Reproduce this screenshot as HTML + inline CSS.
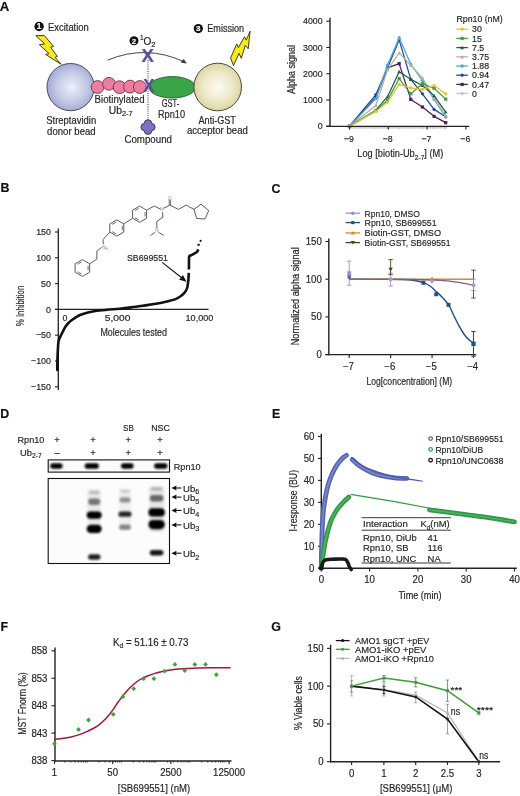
<!DOCTYPE html>
<html><head><meta charset="utf-8"><title>Figure</title>
<style>html,body{margin:0;padding:0;background:#fff;}svg{display:block;will-change:transform;}text{stroke-width:0.18px;}</style></head>
<body>
<svg width="520" height="796" viewBox="0 0 520 796" font-family='"Liberation Sans", sans-serif'>
<rect width="520" height="796" fill="#fff"/>
<text x="-0.30" y="11.40" font-size="13.2" fill="#111" font-weight="bold" stroke="#111" stroke-width="0.1">A</text>
<text x="0.40" y="192.20" font-size="12.4" fill="#111" font-weight="bold" stroke="#111" stroke-width="0.1">B</text>
<text x="271.50" y="192.60" font-size="12.4" fill="#111" font-weight="bold" stroke="#111" stroke-width="0.1">C</text>
<text x="0.30" y="417.90" font-size="12.4" fill="#111" font-weight="bold" stroke="#111" stroke-width="0.1">D</text>
<text x="272.00" y="418.00" font-size="12.4" fill="#111" font-weight="bold" stroke="#111" stroke-width="0.1">E</text>
<text x="0.40" y="631.40" font-size="12.4" fill="#111" font-weight="bold" stroke="#111" stroke-width="0.1">F</text>
<text x="271.20" y="631.40" font-size="12.4" fill="#111" font-weight="bold" stroke="#111" stroke-width="0.1">G</text>
<text x="357.3" y="157.3" font-size="10.6" fill="#262626" textLength="86" lengthAdjust="spacingAndGlyphs" stroke="#262626" stroke-width="0.1">Log [biotin-Ub<tspan font-size="7.6" dy="2.2">2-7</tspan><tspan dy="-2.2">] (M)</tspan></text>
<text x="294.70" y="69.40" font-size="10.6" fill="#262626" text-anchor="middle" textLength="49" lengthAdjust="spacingAndGlyphs" transform="rotate(-90 294.70 69.40)" stroke="#262626" stroke-width="0.1">Alpha signal</text>
<polyline points="349.50,127.78 375.88,127.78 387.52,127.78 399.16,127.78 410.80,127.78 422.44,127.78 434.08,127.78 445.72,127.78" stroke="#cbc3d6" stroke-width="1.25" fill="none" stroke-linejoin="round"/>
<circle cx="349.50" cy="127.78" r="1.20" fill="#cbc3d6" stroke="none" stroke-width="1"/>
<circle cx="375.88" cy="127.78" r="1.20" fill="#cbc3d6" stroke="none" stroke-width="1"/>
<circle cx="387.52" cy="127.78" r="1.20" fill="#cbc3d6" stroke="none" stroke-width="1"/>
<circle cx="399.16" cy="127.78" r="1.20" fill="#cbc3d6" stroke="none" stroke-width="1"/>
<circle cx="410.80" cy="127.78" r="1.20" fill="#cbc3d6" stroke="none" stroke-width="1"/>
<circle cx="422.44" cy="127.78" r="1.20" fill="#cbc3d6" stroke="none" stroke-width="1"/>
<circle cx="434.08" cy="127.78" r="1.20" fill="#cbc3d6" stroke="none" stroke-width="1"/>
<circle cx="445.72" cy="127.78" r="1.20" fill="#cbc3d6" stroke="none" stroke-width="1"/>
<polyline points="349.50,126.20 375.88,97.33 387.52,67.93 399.16,63.59 410.80,99.43 422.44,107.04 434.08,116.36 445.72,122.66" stroke="#4d1c5e" stroke-width="1.25" fill="none" stroke-linejoin="round"/>
<rect x="347.90" y="124.60" width="3.20" height="3.20" fill="#4d1c5e" stroke="none" stroke-width="1"/>
<rect x="374.28" y="95.73" width="3.20" height="3.20" fill="#4d1c5e" stroke="none" stroke-width="1"/>
<rect x="385.92" y="66.33" width="3.20" height="3.20" fill="#4d1c5e" stroke="none" stroke-width="1"/>
<rect x="397.56" y="61.99" width="3.20" height="3.20" fill="#4d1c5e" stroke="none" stroke-width="1"/>
<rect x="409.20" y="97.83" width="3.20" height="3.20" fill="#4d1c5e" stroke="none" stroke-width="1"/>
<rect x="420.84" y="105.44" width="3.20" height="3.20" fill="#4d1c5e" stroke="none" stroke-width="1"/>
<rect x="432.48" y="114.76" width="3.20" height="3.20" fill="#4d1c5e" stroke="none" stroke-width="1"/>
<rect x="444.12" y="121.06" width="3.20" height="3.20" fill="#4d1c5e" stroke="none" stroke-width="1"/>
<polyline points="349.50,126.20 375.88,94.57 387.52,67.93 399.16,39.84 410.80,79.34 422.44,93.78 434.08,109.40 445.72,116.75" stroke="#1e4b8f" stroke-width="1.25" fill="none" stroke-linejoin="round"/>
<circle cx="349.50" cy="126.20" r="1.60" fill="#1e4b8f" stroke="none" stroke-width="1"/>
<circle cx="375.88" cy="94.57" r="1.60" fill="#1e4b8f" stroke="none" stroke-width="1"/>
<circle cx="387.52" cy="67.93" r="1.60" fill="#1e4b8f" stroke="none" stroke-width="1"/>
<circle cx="399.16" cy="39.84" r="1.60" fill="#1e4b8f" stroke="none" stroke-width="1"/>
<circle cx="410.80" cy="79.34" r="1.60" fill="#1e4b8f" stroke="none" stroke-width="1"/>
<circle cx="422.44" cy="93.78" r="1.60" fill="#1e4b8f" stroke="none" stroke-width="1"/>
<circle cx="434.08" cy="109.40" r="1.60" fill="#1e4b8f" stroke="none" stroke-width="1"/>
<circle cx="445.72" cy="116.75" r="1.60" fill="#1e4b8f" stroke="none" stroke-width="1"/>
<polyline points="349.50,126.20 375.88,98.64 387.52,65.04 399.16,37.74 410.80,64.25 422.44,80.53 434.08,99.43 445.72,117.01" stroke="#4aa6dd" stroke-width="1.25" fill="none" stroke-linejoin="round"/>
<path d="M349.50,124.20 L351.50,126.20 L349.50,128.20 L347.50,126.20Z" stroke="none" stroke-width="1" fill="#4aa6dd"/>
<path d="M375.88,96.64 L377.88,98.64 L375.88,100.64 L373.88,98.64Z" stroke="none" stroke-width="1" fill="#4aa6dd"/>
<path d="M387.52,63.04 L389.52,65.04 L387.52,67.04 L385.52,65.04Z" stroke="none" stroke-width="1" fill="#4aa6dd"/>
<path d="M399.16,35.74 L401.16,37.74 L399.16,39.74 L397.16,37.74Z" stroke="none" stroke-width="1" fill="#4aa6dd"/>
<path d="M410.80,62.25 L412.80,64.25 L410.80,66.25 L408.80,64.25Z" stroke="none" stroke-width="1" fill="#4aa6dd"/>
<path d="M422.44,78.53 L424.44,80.53 L422.44,82.53 L420.44,80.53Z" stroke="none" stroke-width="1" fill="#4aa6dd"/>
<path d="M434.08,97.43 L436.08,99.43 L434.08,101.43 L432.08,99.43Z" stroke="none" stroke-width="1" fill="#4aa6dd"/>
<path d="M445.72,115.01 L447.72,117.01 L445.72,119.01 L443.72,117.01Z" stroke="none" stroke-width="1" fill="#4aa6dd"/>
<polyline points="349.50,126.20 375.88,105.46 387.52,69.76 399.16,52.83 410.80,65.30 422.44,77.90 434.08,98.11 445.72,115.70" stroke="#b4b39c" stroke-width="1.25" fill="none" stroke-linejoin="round"/>
<path d="M349.50,124.30 L351.30,127.80 L347.70,127.80Z" stroke="none" stroke-width="1" fill="#b4b39c"/>
<path d="M375.88,103.56 L377.68,107.06 L374.08,107.06Z" stroke="none" stroke-width="1" fill="#b4b39c"/>
<path d="M387.52,67.86 L389.32,71.36 L385.72,71.36Z" stroke="none" stroke-width="1" fill="#b4b39c"/>
<path d="M399.16,50.93 L400.96,54.43 L397.36,54.43Z" stroke="none" stroke-width="1" fill="#b4b39c"/>
<path d="M410.80,63.40 L412.60,66.90 L409.00,66.90Z" stroke="none" stroke-width="1" fill="#b4b39c"/>
<path d="M422.44,76.00 L424.24,79.50 L420.64,79.50Z" stroke="none" stroke-width="1" fill="#b4b39c"/>
<path d="M434.08,96.21 L435.88,99.71 L432.28,99.71Z" stroke="none" stroke-width="1" fill="#b4b39c"/>
<path d="M445.72,113.80 L447.52,117.30 L443.92,117.30Z" stroke="none" stroke-width="1" fill="#b4b39c"/>
<polyline points="349.50,126.20 375.88,110.19 387.52,96.64 399.16,71.73 410.80,79.34 422.44,85.51 434.08,95.62 445.72,112.03" stroke="#1b5e46" stroke-width="1.25" fill="none" stroke-linejoin="round"/>
<path d="M349.50,124.30 L351.30,127.80 L347.70,127.80Z" stroke="none" stroke-width="1" fill="#1b5e46"/>
<path d="M375.88,108.29 L377.68,111.79 L374.08,111.79Z" stroke="none" stroke-width="1" fill="#1b5e46"/>
<path d="M387.52,94.74 L389.32,98.24 L385.72,98.24Z" stroke="none" stroke-width="1" fill="#1b5e46"/>
<path d="M399.16,69.83 L400.96,73.33 L397.36,73.33Z" stroke="none" stroke-width="1" fill="#1b5e46"/>
<path d="M410.80,77.44 L412.60,80.94 L409.00,80.94Z" stroke="none" stroke-width="1" fill="#1b5e46"/>
<path d="M422.44,83.61 L424.24,87.11 L420.64,87.11Z" stroke="none" stroke-width="1" fill="#1b5e46"/>
<path d="M434.08,93.72 L435.88,97.22 L432.28,97.22Z" stroke="none" stroke-width="1" fill="#1b5e46"/>
<path d="M445.72,110.13 L447.52,113.62 L443.92,113.62Z" stroke="none" stroke-width="1" fill="#1b5e46"/>
<polyline points="349.50,126.20 375.88,110.71 387.52,100.34 399.16,78.56 410.80,93.78 422.44,83.68 434.08,88.27 445.72,99.16" stroke="#3f9e3f" stroke-width="1.25" fill="none" stroke-linejoin="round"/>
<rect x="347.90" y="124.60" width="3.20" height="3.20" fill="#3f9e3f" stroke="none" stroke-width="1"/>
<rect x="374.28" y="109.11" width="3.20" height="3.20" fill="#3f9e3f" stroke="none" stroke-width="1"/>
<rect x="385.92" y="98.74" width="3.20" height="3.20" fill="#3f9e3f" stroke="none" stroke-width="1"/>
<rect x="397.56" y="76.96" width="3.20" height="3.20" fill="#3f9e3f" stroke="none" stroke-width="1"/>
<rect x="409.20" y="92.18" width="3.20" height="3.20" fill="#3f9e3f" stroke="none" stroke-width="1"/>
<rect x="420.84" y="82.08" width="3.20" height="3.20" fill="#3f9e3f" stroke="none" stroke-width="1"/>
<rect x="432.48" y="86.67" width="3.20" height="3.20" fill="#3f9e3f" stroke="none" stroke-width="1"/>
<rect x="444.12" y="97.56" width="3.20" height="3.20" fill="#3f9e3f" stroke="none" stroke-width="1"/>
<polyline points="349.50,126.20 375.88,111.37 387.52,102.05 399.16,84.33 410.80,87.88 422.44,89.32 434.08,85.51 445.72,93.78" stroke="#e9c12c" stroke-width="1.25" fill="none" stroke-linejoin="round"/>
<circle cx="349.50" cy="126.20" r="1.60" fill="#e9c12c" stroke="none" stroke-width="1"/>
<circle cx="375.88" cy="111.37" r="1.60" fill="#e9c12c" stroke="none" stroke-width="1"/>
<circle cx="387.52" cy="102.05" r="1.60" fill="#e9c12c" stroke="none" stroke-width="1"/>
<circle cx="399.16" cy="84.33" r="1.60" fill="#e9c12c" stroke="none" stroke-width="1"/>
<circle cx="410.80" cy="87.88" r="1.60" fill="#e9c12c" stroke="none" stroke-width="1"/>
<circle cx="422.44" cy="89.32" r="1.60" fill="#e9c12c" stroke="none" stroke-width="1"/>
<circle cx="434.08" cy="85.51" r="1.60" fill="#e9c12c" stroke="none" stroke-width="1"/>
<circle cx="445.72" cy="93.78" r="1.60" fill="#e9c12c" stroke="none" stroke-width="1"/>
<line x1="330.00" y1="17.80" x2="330.00" y2="127.00" stroke="#222" stroke-width="1.4"/>
<line x1="326.30" y1="126.40" x2="469.30" y2="126.40" stroke="#222" stroke-width="1.4"/>
<line x1="326.30" y1="126.20" x2="330.00" y2="126.20" stroke="#222" stroke-width="1.1"/>
<text x="322.60" y="129.40" font-size="9.24" fill="#262626" text-anchor="end" textLength="4.89" lengthAdjust="spacingAndGlyphs" stroke="#262626">0</text>
<line x1="326.30" y1="99.95" x2="330.00" y2="99.95" stroke="#222" stroke-width="1.1"/>
<text x="322.60" y="103.15" font-size="9.24" fill="#262626" text-anchor="end" textLength="19.57" lengthAdjust="spacingAndGlyphs" stroke="#262626">1000</text>
<line x1="326.30" y1="73.70" x2="330.00" y2="73.70" stroke="#222" stroke-width="1.1"/>
<text x="322.60" y="76.90" font-size="9.24" fill="#262626" text-anchor="end" textLength="19.57" lengthAdjust="spacingAndGlyphs" stroke="#262626">2000</text>
<line x1="326.30" y1="47.45" x2="330.00" y2="47.45" stroke="#222" stroke-width="1.1"/>
<text x="322.60" y="50.65" font-size="9.24" fill="#262626" text-anchor="end" textLength="19.57" lengthAdjust="spacingAndGlyphs" stroke="#262626">3000</text>
<line x1="326.30" y1="21.20" x2="330.00" y2="21.20" stroke="#222" stroke-width="1.1"/>
<text x="322.60" y="24.40" font-size="9.24" fill="#262626" text-anchor="end" textLength="19.57" lengthAdjust="spacingAndGlyphs" stroke="#262626">4000</text>
<line x1="349.50" y1="126.40" x2="349.50" y2="129.60" stroke="#222" stroke-width="1.1"/>
<text x="348.90" y="141.80" font-size="9.24" fill="#262626" text-anchor="middle" textLength="10.03" lengthAdjust="spacingAndGlyphs" stroke="#262626">&#8722;9</text>
<line x1="388.30" y1="126.40" x2="388.30" y2="129.60" stroke="#222" stroke-width="1.1"/>
<text x="387.70" y="141.80" font-size="9.24" fill="#262626" text-anchor="middle" textLength="10.03" lengthAdjust="spacingAndGlyphs" stroke="#262626">&#8722;8</text>
<line x1="427.10" y1="126.40" x2="427.10" y2="129.60" stroke="#222" stroke-width="1.1"/>
<text x="426.50" y="141.80" font-size="9.24" fill="#262626" text-anchor="middle" textLength="10.03" lengthAdjust="spacingAndGlyphs" stroke="#262626">&#8722;7</text>
<line x1="465.90" y1="126.40" x2="465.90" y2="129.60" stroke="#222" stroke-width="1.1"/>
<text x="465.30" y="141.80" font-size="9.24" fill="#262626" text-anchor="middle" textLength="10.03" lengthAdjust="spacingAndGlyphs" stroke="#262626">&#8722;6</text>
<text x="456.50" y="22.00" font-size="9.03" fill="#262626" textLength="46.2" lengthAdjust="spacingAndGlyphs" stroke="#262626">Rpn10 (nM)</text>
<line x1="456.30" y1="29.20" x2="467.80" y2="29.20" stroke="#e9c12c" stroke-width="1.3"/>
<circle cx="462.10" cy="29.20" r="1.60" fill="#e9c12c" stroke="none" stroke-width="1"/>
<text x="472.00" y="32.40" font-size="9.24" fill="#262626" textLength="9.79" lengthAdjust="spacingAndGlyphs" stroke="#262626">30</text>
<line x1="456.30" y1="38.40" x2="467.80" y2="38.40" stroke="#3f9e3f" stroke-width="1.3"/>
<rect x="460.50" y="36.80" width="3.20" height="3.20" fill="#3f9e3f" stroke="none" stroke-width="1"/>
<text x="472.00" y="41.60" font-size="9.24" fill="#262626" textLength="9.79" lengthAdjust="spacingAndGlyphs" stroke="#262626">15</text>
<line x1="456.30" y1="47.60" x2="467.80" y2="47.60" stroke="#1b5e46" stroke-width="1.3"/>
<path d="M462.10,45.70 L463.90,49.20 L460.30,49.20Z" stroke="none" stroke-width="1" fill="#1b5e46"/>
<text x="472.00" y="50.80" font-size="9.24" fill="#262626" textLength="12.23" lengthAdjust="spacingAndGlyphs" stroke="#262626">7.5</text>
<line x1="456.30" y1="56.80" x2="467.80" y2="56.80" stroke="#b4b39c" stroke-width="1.3"/>
<path d="M462.10,54.90 L463.90,58.40 L460.30,58.40Z" stroke="none" stroke-width="1" fill="#b4b39c"/>
<text x="472.00" y="60.00" font-size="9.24" fill="#262626" textLength="17.13" lengthAdjust="spacingAndGlyphs" stroke="#262626">3.75</text>
<line x1="456.30" y1="66.00" x2="467.80" y2="66.00" stroke="#4aa6dd" stroke-width="1.3"/>
<path d="M462.10,64.00 L464.10,66.00 L462.10,68.00 L460.10,66.00Z" stroke="none" stroke-width="1" fill="#4aa6dd"/>
<text x="472.00" y="69.20" font-size="9.24" fill="#262626" textLength="17.13" lengthAdjust="spacingAndGlyphs" stroke="#262626">1.88</text>
<line x1="456.30" y1="75.20" x2="467.80" y2="75.20" stroke="#1e4b8f" stroke-width="1.3"/>
<circle cx="462.10" cy="75.20" r="1.60" fill="#1e4b8f" stroke="none" stroke-width="1"/>
<text x="472.00" y="78.40" font-size="9.24" fill="#262626" textLength="17.13" lengthAdjust="spacingAndGlyphs" stroke="#262626">0.94</text>
<line x1="456.30" y1="84.40" x2="467.80" y2="84.40" stroke="#4d1c5e" stroke-width="1.3"/>
<rect x="460.50" y="82.80" width="3.20" height="3.20" fill="#4d1c5e" stroke="none" stroke-width="1"/>
<text x="472.00" y="87.60" font-size="9.24" fill="#262626" textLength="17.13" lengthAdjust="spacingAndGlyphs" stroke="#262626">0.47</text>
<line x1="456.30" y1="93.40" x2="467.80" y2="93.40" stroke="#cbc3d6" stroke-width="1.3"/>
<circle cx="462.10" cy="93.40" r="1.60" fill="#cbc3d6" stroke="none" stroke-width="1"/>
<text x="472.00" y="96.60" font-size="9.24" fill="#262626" textLength="4.89" lengthAdjust="spacingAndGlyphs" stroke="#262626">0</text>
<defs>
<radialGradient id="gDonor" cx="0.52" cy="0.5" r="0.55"><stop offset="0" stop-color="#eef0fa"/><stop offset="0.55" stop-color="#c6cbe6"/><stop offset="1" stop-color="#9fa6d0"/></radialGradient>
<radialGradient id="gAcc" cx="0.5" cy="0.5" r="0.55"><stop offset="0" stop-color="#fdfcf2"/><stop offset="0.6" stop-color="#ece7c4"/><stop offset="1" stop-color="#d6cf98"/></radialGradient>
</defs>
<circle cx="39.10" cy="26.50" r="4.70" fill="#111" stroke="none" stroke-width="1"/>
<text x="39.10" y="29.41" font-size="8.225" fill="#fff" text-anchor="middle" font-weight="bold" stroke="#fff">1</text>
<text x="48.00" y="31.00" font-size="10.3" fill="#262626" textLength="40.8" lengthAdjust="spacingAndGlyphs" stroke="#262626" stroke-width="0.1">Excitation</text>
<circle cx="134.00" cy="40.80" r="4.50" fill="#111" stroke="none" stroke-width="1"/>
<text x="134.00" y="43.59" font-size="7.875" fill="#fff" text-anchor="middle" font-weight="bold" stroke="#fff">2</text>
<text x="139.9" y="44.6" font-size="10.0" fill="#262626" stroke="#262626" stroke-width="0.1"><tspan font-size="6.6" dy="-4.6">1</tspan><tspan dy="4.6">O</tspan><tspan font-size="7.4" dy="2.4">2</tspan></text>
<circle cx="198.30" cy="28.60" r="4.60" fill="#111" stroke="none" stroke-width="1"/>
<text x="198.30" y="31.45" font-size="8.049999999999999" fill="#fff" text-anchor="middle" font-weight="bold" stroke="#fff">3</text>
<text x="207.30" y="31.90" font-size="10.3" fill="#262626" textLength="36.8" lengthAdjust="spacingAndGlyphs" stroke="#262626" stroke-width="0.1">Emission</text>
<path d="M35.80,35.60 L44.40,35.60 L53.60,46.40 L50.60,47.20 L57.40,56.40 L55.00,57.20 L61.00,64.20 L45.60,54.40 L49.00,53.60 L39.40,44.80 L44.60,43.80Z" stroke="#2e2a0c" stroke-width="0.9" fill="#f8ea1c" stroke-linejoin="round"/>
<path d="M250.10,31.20 L248.20,48.80 L245.30,45.30 L241.30,58.30 L239.00,53.40 L233.50,65.50 L230.60,58.00 L236.70,43.90 L238.40,47.60 L244.50,36.70 L246.20,40.10Z" stroke="#2e2a0c" stroke-width="0.9" fill="#f8ea1c" stroke-linejoin="round"/>
<path d="M107.5,60.2 Q146,44 184.5,62.0" stroke="#333" stroke-width="0.9" fill="none"/>
<path d="M186.6,63.4 L180.6,62.6 L183.8,59.0 Z" stroke="none" stroke-width="1" fill="#333"/>
<line x1="148.00" y1="60.00" x2="148.00" y2="121.00" stroke="#444" stroke-width="1.1" stroke-dasharray="1.0,1.2"/>
<circle cx="70.60" cy="87.10" r="23.60" fill="url(#gDonor)" stroke="#454a66" stroke-width="1.0"/>
<ellipse cx="172.2" cy="87.3" rx="23.2" ry="10.7" fill="#3aa446" stroke="#1f5a26" stroke-width="0.9"/>
<circle cx="217.70" cy="87.00" r="23.80" fill="url(#gAcc)" stroke="#4a4a3a" stroke-width="1.0"/>
<circle cx="97.60" cy="87.00" r="6.40" fill="#ec7f9f" stroke="#7a2c4c" stroke-width="0.9"/>
<circle cx="109.00" cy="83.80" r="6.40" fill="#ec7f9f" stroke="#7a2c4c" stroke-width="0.9"/>
<circle cx="119.60" cy="87.20" r="6.40" fill="#ec7f9f" stroke="#7a2c4c" stroke-width="0.9"/>
<circle cx="130.00" cy="86.60" r="6.40" fill="#ec7f9f" stroke="#7a2c4c" stroke-width="0.9"/>
<circle cx="139.80" cy="87.00" r="6.40" fill="#ec7f9f" stroke="#7a2c4c" stroke-width="0.9"/>
<text x="147.8" y="61.6" font-size="18.4" font-weight="bold" fill="#55549c" text-anchor="middle" stroke="#3a3978" stroke-width="0.6" textLength="12.4" lengthAdjust="spacingAndGlyphs">X</text>
<text x="148.8" y="91.8" font-size="18.0" font-weight="bold" fill="#55549c" text-anchor="middle" stroke="#3a3978" stroke-width="0.6" textLength="11.2" lengthAdjust="spacingAndGlyphs">X</text>
<path d="M144.30,123.41 A3.7,3.7 0 0 1 151.70,123.41 A3.7,3.7 0 0 1 151.70,130.79 A3.7,3.7 0 0 1 144.30,130.79 A3.7,3.7 0 0 1 144.30,123.41 Z" stroke="#2e2c5a" stroke-width="0.9" fill="#7a73c2"/>
<text x="71.20" y="123.70" font-size="10.3" fill="#262626" text-anchor="middle" textLength="50" lengthAdjust="spacingAndGlyphs" stroke="#262626" stroke-width="0.1">Streptavidin</text>
<text x="71.40" y="134.50" font-size="10.3" fill="#262626" text-anchor="middle" textLength="48.6" lengthAdjust="spacingAndGlyphs" stroke="#262626" stroke-width="0.1">donor bead</text>
<text x="119.60" y="103.00" font-size="10.3" fill="#262626" text-anchor="middle" textLength="50" lengthAdjust="spacingAndGlyphs" stroke="#262626" stroke-width="0.1">Biotinylated</text>
<text x="108.8" y="113.8" font-size="10.3" fill="#262626" stroke="#262626" stroke-width="0.1">Ub<tspan font-size="7.4" dy="2.6">2-7</tspan></text>
<text x="170.40" y="107.20" font-size="10.3" fill="#262626" text-anchor="middle" textLength="17.5" lengthAdjust="spacingAndGlyphs" stroke="#262626" stroke-width="0.1">GST-</text>
<text x="171.50" y="118.00" font-size="10.3" fill="#262626" text-anchor="middle" textLength="27" lengthAdjust="spacingAndGlyphs" stroke="#262626" stroke-width="0.1">Rpn10</text>
<text x="148.20" y="142.50" font-size="10.3" fill="#262626" text-anchor="middle" textLength="47.5" lengthAdjust="spacingAndGlyphs" stroke="#262626" stroke-width="0.1">Compound</text>
<text x="217.20" y="123.50" font-size="10.3" fill="#262626" text-anchor="middle" textLength="37.3" lengthAdjust="spacingAndGlyphs" stroke="#262626" stroke-width="0.1">Anti-GST</text>
<text x="217.40" y="133.60" font-size="10.3" fill="#262626" text-anchor="middle" textLength="61" lengthAdjust="spacingAndGlyphs" stroke="#262626" stroke-width="0.1">acceptor bead</text>
<line x1="58.30" y1="228.50" x2="58.30" y2="390.00" stroke="#222" stroke-width="1.3"/>
<line x1="55.00" y1="309.40" x2="208.60" y2="309.40" stroke="#222" stroke-width="1.3"/>
<line x1="55.00" y1="232.00" x2="58.30" y2="232.00" stroke="#222" stroke-width="1.1"/>
<text x="51.00" y="235.20" font-size="9.35" fill="#262626" text-anchor="end" textLength="14.85" lengthAdjust="spacingAndGlyphs" stroke="#262626">150</text>
<line x1="55.00" y1="257.80" x2="58.30" y2="257.80" stroke="#222" stroke-width="1.1"/>
<text x="51.00" y="261.00" font-size="9.35" fill="#262626" text-anchor="end" textLength="14.85" lengthAdjust="spacingAndGlyphs" stroke="#262626">100</text>
<line x1="55.00" y1="283.60" x2="58.30" y2="283.60" stroke="#222" stroke-width="1.1"/>
<text x="51.00" y="286.80" font-size="9.35" fill="#262626" text-anchor="end" textLength="9.9" lengthAdjust="spacingAndGlyphs" stroke="#262626">50</text>
<line x1="55.00" y1="309.40" x2="58.30" y2="309.40" stroke="#222" stroke-width="1.1"/>
<text x="51.00" y="312.60" font-size="9.35" fill="#262626" text-anchor="end" textLength="4.95" lengthAdjust="spacingAndGlyphs" stroke="#262626">0</text>
<line x1="55.00" y1="335.20" x2="58.30" y2="335.20" stroke="#222" stroke-width="1.1"/>
<text x="51.00" y="338.40" font-size="9.35" fill="#262626" text-anchor="end" textLength="15.1" lengthAdjust="spacingAndGlyphs" stroke="#262626">&#8722;50</text>
<line x1="55.00" y1="361.00" x2="58.30" y2="361.00" stroke="#222" stroke-width="1.1"/>
<text x="51.00" y="364.20" font-size="9.35" fill="#262626" text-anchor="end" textLength="20.05" lengthAdjust="spacingAndGlyphs" stroke="#262626">&#8722;100</text>
<line x1="55.00" y1="386.80" x2="58.30" y2="386.80" stroke="#222" stroke-width="1.1"/>
<text x="51.00" y="390.00" font-size="9.35" fill="#262626" text-anchor="end" textLength="20.05" lengthAdjust="spacingAndGlyphs" stroke="#262626">&#8722;150</text>
<text x="65.00" y="321.00" font-size="9.35" fill="#262626" text-anchor="middle" textLength="4.95" lengthAdjust="spacingAndGlyphs" stroke="#262626">0</text>
<text x="117.60" y="321.00" font-size="9.35" fill="#262626" text-anchor="middle" textLength="25.6" lengthAdjust="spacingAndGlyphs" stroke="#262626">5,000</text>
<text x="199.40" y="320.80" font-size="9.35" fill="#262626" text-anchor="middle" textLength="27.6" lengthAdjust="spacingAndGlyphs" stroke="#262626">10,000</text>
<text x="133.70" y="336.20" font-size="10.8" fill="#262626" text-anchor="middle" textLength="66.6" lengthAdjust="spacingAndGlyphs" stroke="#262626" stroke-width="0.1">Molecules tested</text>
<text x="23.90" y="306.00" font-size="10.8" fill="#262626" text-anchor="middle" textLength="40.5" lengthAdjust="spacingAndGlyphs" transform="rotate(-90 23.90 306.00)" stroke="#262626" stroke-width="0.1">% Inhibition</text>
<path d="M57.30,370.00 C57.32,368.67 57.32,365.17 57.40,362.00 C57.48,358.83 57.62,354.43 57.80,351.00 C57.98,347.57 58.07,343.83 58.50,341.40 C58.93,338.97 59.72,337.97 60.40,336.40 C61.08,334.83 61.77,333.60 62.60,332.00 C63.43,330.40 64.43,328.30 65.40,326.80 C66.37,325.30 67.32,324.13 68.40,323.00 C69.48,321.87 70.67,320.93 71.90,320.00 C73.13,319.07 74.45,318.23 75.80,317.40 C77.15,316.57 77.97,315.83 80.00,315.00 C82.03,314.17 85.43,313.07 88.00,312.40 C90.57,311.73 92.23,311.43 95.40,311.00 C98.57,310.57 102.97,310.18 107.00,309.80 C111.03,309.42 115.60,309.10 119.60,308.70 C123.60,308.30 126.95,307.92 131.00,307.40 C135.05,306.88 139.73,306.20 143.90,305.60 C148.07,305.00 151.98,304.52 156.00,303.80 C160.02,303.08 164.83,302.03 168.00,301.30 C171.17,300.57 173.08,300.12 175.00,299.40 C176.92,298.68 178.12,297.90 179.50,297.00 C180.88,296.10 182.25,295.03 183.30,294.00 C184.35,292.97 185.12,291.97 185.80,290.80 C186.48,289.63 187.00,288.63 187.40,287.00 C187.80,285.37 188.07,282.00 188.20,281.00" stroke="#111" stroke-width="2.6" fill="none" stroke-linecap="round"/>
<path d="M188.30,281.00 C188.35,280.17 188.52,277.37 188.60,276.00 C188.68,274.63 188.77,273.33 188.80,272.80" stroke="#111" stroke-width="2.6" fill="none"/>
<path d="M188.90,269.60 C188.92,268.33 188.95,264.20 189.00,262.00 C189.05,259.80 188.87,257.50 189.20,256.40 C189.53,255.30 190.17,255.87 191.00,255.40 C191.83,254.93 193.20,254.20 194.20,253.60 C195.20,253.00 196.30,252.50 197.00,251.80 C197.70,251.10 198.17,249.80 198.40,249.40" stroke="#111" stroke-width="2.6" fill="none"/>
<line x1="197.40" y1="244.80" x2="199.80" y2="244.80" stroke="#111" stroke-width="1.8"/>
<circle cx="200.60" cy="240.80" r="1.10" fill="#111" stroke="none" stroke-width="1"/>
<line x1="162.20" y1="262.40" x2="183.20" y2="279.00" stroke="#111" stroke-width="1.1"/>
<path d="M186.6,281.8 L179.2,279.8 L182.9,275.0 Z" stroke="none" stroke-width="1" fill="#111"/>
<text x="147.50" y="260.50" font-size="9.87" fill="#262626" text-anchor="middle" textLength="41" lengthAdjust="spacingAndGlyphs" stroke="#262626">SB699551</text>
<polyline points="116.80,219.90 109.79,223.95 109.79,232.05 116.80,236.10 123.81,232.05 123.81,223.95 116.80,219.90" stroke="#4a4a4a" stroke-width="0.9" fill="none"/>
<line x1="115.98" y1="222.16" x2="112.15" y2="224.37" stroke="#4a4a4a" stroke-width="0.8"/>
<line x1="112.15" y1="231.63" x2="115.98" y2="233.84" stroke="#4a4a4a" stroke-width="0.8"/>
<line x1="122.27" y1="230.21" x2="122.27" y2="225.79" stroke="#4a4a4a" stroke-width="0.8"/>
<polyline points="139.60,206.10 132.59,210.15 132.59,218.25 139.60,222.30 146.61,218.25 146.61,210.15 139.60,206.10" stroke="#4a4a4a" stroke-width="0.9" fill="none"/>
<line x1="138.78" y1="208.36" x2="134.95" y2="210.57" stroke="#4a4a4a" stroke-width="0.8"/>
<line x1="134.95" y1="217.83" x2="138.78" y2="220.04" stroke="#4a4a4a" stroke-width="0.8"/>
<line x1="145.07" y1="216.41" x2="145.07" y2="211.99" stroke="#4a4a4a" stroke-width="0.8"/>
<polyline points="82.40,259.60 75.13,263.80 75.13,272.20 82.40,276.40 89.67,272.20 89.67,263.80 82.40,259.60" stroke="#4a4a4a" stroke-width="0.9" fill="none"/>
<line x1="81.55" y1="261.94" x2="77.58" y2="264.23" stroke="#4a4a4a" stroke-width="0.8"/>
<line x1="77.58" y1="271.77" x2="81.55" y2="274.06" stroke="#4a4a4a" stroke-width="0.8"/>
<line x1="88.07" y1="270.29" x2="88.07" y2="265.71" stroke="#4a4a4a" stroke-width="0.8"/>
<polyline points="123.81,223.95 132.59,218.25" stroke="#4a4a4a" stroke-width="0.9" fill="none"/>
<polyline points="109.79,232.05 103.00,239.60 103.40,244.20" stroke="#4a4a4a" stroke-width="0.9" fill="none"/>
<polyline points="101.60,247.40 96.90,251.20 96.90,259.00 89.67,263.80" stroke="#4a4a4a" stroke-width="0.9" fill="none"/>
<text x="103.80" y="249.20" font-size="4.83" fill="#8fb0d8" text-anchor="middle" textLength="3.32" lengthAdjust="spacingAndGlyphs" stroke="#8fb0d8">N</text>
<text x="106.40" y="250.40" font-size="4.2" fill="#8fb0d8" text-anchor="middle" textLength="2.89" lengthAdjust="spacingAndGlyphs" stroke="#8fb0d8">H</text>
<polyline points="146.61,210.15 154.20,206.00 160.60,209.20" stroke="#4a4a4a" stroke-width="0.9" fill="none"/>
<text x="162.00" y="211.20" font-size="4.83" fill="#9ab0cc" text-anchor="middle" textLength="3.32" lengthAdjust="spacingAndGlyphs" stroke="#9ab0cc">N</text>
<polyline points="163.60,208.40 169.80,205.10 178.50,209.40 186.20,205.10 194.00,209.40" stroke="#4a4a4a" stroke-width="0.9" fill="none"/>
<line x1="169.20" y1="205.00" x2="169.20" y2="199.40" stroke="#4a4a4a" stroke-width="0.8"/>
<line x1="170.60" y1="205.00" x2="170.60" y2="199.40" stroke="#4a4a4a" stroke-width="0.8"/>
<text x="169.90" y="199.60" font-size="4.83" fill="#e0a0b0" text-anchor="middle" textLength="3.58" lengthAdjust="spacingAndGlyphs" stroke="#e0a0b0">O</text>
<polyline points="194.00,209.40 201.00,204.20 208.70,210.60 205.00,219.00 196.60,218.40 194.00,209.40" stroke="#4a4a4a" stroke-width="0.9" fill="none"/>
<polyline points="162.40,212.20 162.90,217.20 156.80,221.50 156.80,228.00" stroke="#4a4a4a" stroke-width="0.9" fill="none"/>
<text x="156.80" y="232.40" font-size="4.83" fill="#9ab0cc" text-anchor="middle" textLength="3.32" lengthAdjust="spacingAndGlyphs" stroke="#9ab0cc">N</text>
<polyline points="155.00,232.40 150.60,235.40" stroke="#4a4a4a" stroke-width="0.9" fill="none"/>
<polyline points="158.60,232.40 163.80,235.40" stroke="#4a4a4a" stroke-width="0.9" fill="none"/>
<line x1="328.80" y1="238.50" x2="328.80" y2="355.20" stroke="#222" stroke-width="1.4"/>
<line x1="325.40" y1="354.60" x2="476.20" y2="354.60" stroke="#222" stroke-width="1.4"/>
<line x1="325.40" y1="354.60" x2="328.80" y2="354.60" stroke="#222" stroke-width="1.1"/>
<text x="321.80" y="358.00" font-size="10.08" fill="#262626" text-anchor="end" textLength="5.34" lengthAdjust="spacingAndGlyphs" stroke="#262626" stroke-width="0.1">0</text>
<line x1="325.40" y1="316.90" x2="328.80" y2="316.90" stroke="#222" stroke-width="1.1"/>
<text x="321.80" y="320.30" font-size="10.08" fill="#262626" text-anchor="end" textLength="10.68" lengthAdjust="spacingAndGlyphs" stroke="#262626" stroke-width="0.1">50</text>
<line x1="325.40" y1="279.20" x2="328.80" y2="279.20" stroke="#222" stroke-width="1.1"/>
<text x="321.80" y="282.60" font-size="10.08" fill="#262626" text-anchor="end" textLength="16.02" lengthAdjust="spacingAndGlyphs" stroke="#262626" stroke-width="0.1">100</text>
<line x1="325.40" y1="241.50" x2="328.80" y2="241.50" stroke="#222" stroke-width="1.1"/>
<text x="321.80" y="244.90" font-size="10.08" fill="#262626" text-anchor="end" textLength="16.02" lengthAdjust="spacingAndGlyphs" stroke="#262626" stroke-width="0.1">150</text>
<line x1="349.20" y1="354.60" x2="349.20" y2="358.00" stroke="#222" stroke-width="1.1"/>
<text x="348.40" y="370.20" font-size="10.08" fill="#262626" text-anchor="middle" textLength="10.95" lengthAdjust="spacingAndGlyphs" stroke="#262626" stroke-width="0.1">&#8722;7</text>
<line x1="390.63" y1="354.60" x2="390.63" y2="358.00" stroke="#222" stroke-width="1.1"/>
<text x="389.83" y="370.20" font-size="10.08" fill="#262626" text-anchor="middle" textLength="10.95" lengthAdjust="spacingAndGlyphs" stroke="#262626" stroke-width="0.1">&#8722;6</text>
<line x1="432.06" y1="354.60" x2="432.06" y2="358.00" stroke="#222" stroke-width="1.1"/>
<text x="431.26" y="370.20" font-size="10.08" fill="#262626" text-anchor="middle" textLength="10.95" lengthAdjust="spacingAndGlyphs" stroke="#262626" stroke-width="0.1">&#8722;5</text>
<line x1="473.49" y1="354.60" x2="473.49" y2="358.00" stroke="#222" stroke-width="1.1"/>
<text x="472.69" y="370.20" font-size="10.08" fill="#262626" text-anchor="middle" textLength="10.95" lengthAdjust="spacingAndGlyphs" stroke="#262626" stroke-width="0.1">&#8722;4</text>
<text x="409.30" y="385.00" font-size="10.8" fill="#262626" text-anchor="middle" textLength="85.8" lengthAdjust="spacingAndGlyphs" stroke="#262626" stroke-width="0.1">Log[concentration] (M)</text>
<text x="299.00" y="296.30" font-size="10.8" fill="#262626" text-anchor="middle" textLength="98" lengthAdjust="spacingAndGlyphs" transform="rotate(-90 299.00 296.30)" stroke="#262626" stroke-width="0.1">Normalized alpha signal</text>
<line x1="349.20" y1="261.10" x2="349.20" y2="285.23" stroke="#9a90cf" stroke-width="0.9"/>
<line x1="347.00" y1="261.10" x2="351.40" y2="261.10" stroke="#9a90cf" stroke-width="0.9"/>
<line x1="347.00" y1="285.23" x2="351.40" y2="285.23" stroke="#9a90cf" stroke-width="0.9"/>
<line x1="390.63" y1="273.17" x2="390.63" y2="285.99" stroke="#9a90cf" stroke-width="0.9"/>
<line x1="388.43" y1="273.17" x2="392.83" y2="273.17" stroke="#9a90cf" stroke-width="0.9"/>
<line x1="388.43" y1="285.99" x2="392.83" y2="285.99" stroke="#9a90cf" stroke-width="0.9"/>
<line x1="390.63" y1="259.60" x2="390.63" y2="274.68" stroke="#5a3b1f" stroke-width="0.9"/>
<line x1="388.43" y1="259.60" x2="392.83" y2="259.60" stroke="#5a3b1f" stroke-width="0.9"/>
<line x1="388.43" y1="274.68" x2="392.83" y2="274.68" stroke="#5a3b1f" stroke-width="0.9"/>
<line x1="473.49" y1="270.15" x2="473.49" y2="298.05" stroke="#5a3b1f" stroke-width="0.9"/>
<line x1="471.29" y1="270.15" x2="475.69" y2="270.15" stroke="#5a3b1f" stroke-width="0.9"/>
<line x1="471.29" y1="298.05" x2="475.69" y2="298.05" stroke="#5a3b1f" stroke-width="0.9"/>
<line x1="473.49" y1="279.20" x2="473.49" y2="290.51" stroke="#9a90cf" stroke-width="0.9"/>
<line x1="471.29" y1="279.20" x2="475.69" y2="279.20" stroke="#9a90cf" stroke-width="0.9"/>
<line x1="471.29" y1="290.51" x2="475.69" y2="290.51" stroke="#9a90cf" stroke-width="0.9"/>
<line x1="473.49" y1="331.53" x2="473.49" y2="356.11" stroke="#1e4f88" stroke-width="1.1"/>
<line x1="471.29" y1="331.53" x2="475.69" y2="331.53" stroke="#1e4f88" stroke-width="1.1"/>
<line x1="471.29" y1="356.11" x2="475.69" y2="356.11" stroke="#1e4f88" stroke-width="1.1"/>
<path d="M349.20,279.20 C356.11,279.20 380.27,279.07 390.63,279.20 C400.99,279.33 405.88,279.39 411.34,279.95 C416.81,280.52 420.29,281.59 423.40,282.60 C426.51,283.61 427.87,284.52 430.00,286.00 C432.13,287.48 434.28,289.75 436.20,291.50 C438.12,293.25 439.87,294.83 441.50,296.50 C443.13,298.17 444.62,299.75 446.00,301.50 C447.38,303.25 448.63,304.95 449.80,307.00 C450.97,309.05 451.97,311.63 453.00,313.80 C454.03,315.97 454.97,317.93 456.00,320.00 C457.03,322.07 458.10,324.20 459.20,326.20 C460.30,328.20 461.43,330.20 462.60,332.00 C463.77,333.80 465.05,335.63 466.20,337.00 C467.35,338.37 468.48,339.32 469.50,340.20 C470.52,341.08 471.83,341.95 472.30,342.30" stroke="#1e4f88" stroke-width="1.4" fill="none"/>
<line x1="349.20" y1="279.20" x2="473.49" y2="279.20" stroke="#d68a2a" stroke-width="1.6"/>
<path d="M349.20,279.20 C359.56,279.25 396.15,279.31 411.34,279.50 C426.54,279.69 432.75,279.88 440.35,280.33 C447.94,280.78 451.39,281.40 456.92,282.22 C462.44,283.03 470.73,284.73 473.49,285.23" stroke="#7a6090" stroke-width="1.3" fill="none"/>
<rect x="347.25" y="271.22" width="3.90" height="3.90" fill="#9a90cf" stroke="none" stroke-width="1"/>
<rect x="347.45" y="275.19" width="3.50" height="3.50" fill="#5a6aa8" stroke="none" stroke-width="1"/>
<rect x="421.45" y="280.87" width="3.90" height="3.90" fill="#1e4f88" stroke="none" stroke-width="1"/>
<rect x="434.25" y="292.33" width="3.90" height="3.90" fill="#1e4f88" stroke="none" stroke-width="1"/>
<rect x="446.55" y="302.89" width="3.90" height="3.90" fill="#1e4f88" stroke="none" stroke-width="1"/>
<rect x="471.34" y="341.67" width="4.30" height="4.30" fill="#1e4f88" stroke="none" stroke-width="1"/>
<circle cx="390.63" cy="279.20" r="2.00" fill="#a49ad2" stroke="none" stroke-width="1"/>
<circle cx="432.06" cy="281.46" r="1.80" fill="#a49ad2" stroke="none" stroke-width="1"/>
<path d="M388.43,267.80 L392.83,267.80 L390.63,271.40Z" stroke="none" stroke-width="1" fill="#5a3b1f"/>
<path d="M429.86,280.05 L434.26,280.05 L432.06,276.45Z" stroke="none" stroke-width="1" fill="#d68a2a"/>
<circle cx="473.49" cy="285.23" r="2.00" fill="#a49ad2" stroke="none" stroke-width="1"/>
<line x1="345.60" y1="213.20" x2="360.00" y2="213.20" stroke="#9a90cf" stroke-width="1.3"/>
<text x="364.60" y="216.60" font-size="9.87" fill="#262626" textLength="55.2" lengthAdjust="spacingAndGlyphs" stroke="#262626">Rpn10, DMSO</text>
<line x1="345.60" y1="222.60" x2="360.00" y2="222.60" stroke="#1e4f88" stroke-width="1.3"/>
<text x="364.60" y="226.00" font-size="9.87" fill="#262626" textLength="72.0" lengthAdjust="spacingAndGlyphs" stroke="#262626">Rpn10, SB699551</text>
<line x1="345.60" y1="232.90" x2="360.00" y2="232.90" stroke="#d68a2a" stroke-width="1.3"/>
<text x="364.60" y="236.30" font-size="9.87" fill="#262626" textLength="76.5" lengthAdjust="spacingAndGlyphs" stroke="#262626">Biotin-GST, DMSO</text>
<line x1="345.60" y1="242.60" x2="360.00" y2="242.60" stroke="#5a3b1f" stroke-width="1.3"/>
<text x="364.60" y="246.00" font-size="9.87" fill="#262626" textLength="86.0" lengthAdjust="spacingAndGlyphs" stroke="#262626">Biotin-GST, SB699551</text>
<circle cx="352.80" cy="213.20" r="1.80" fill="#9a90cf" stroke="none" stroke-width="1"/>
<rect x="351.25" y="221.05" width="3.10" height="3.10" fill="#1e4f88" stroke="none" stroke-width="1"/>
<path d="M350.6,234.5 L355.0,234.5 L352.8,230.9Z" stroke="none" stroke-width="1" fill="#d68a2a"/>
<path d="M350.6,241.0 L355.0,241.0 L352.8,244.6Z" stroke="none" stroke-width="1" fill="#5a3b1f"/>
<defs>
<filter id="blur1" x="-50%" y="-50%" width="200%" height="200%"><feGaussianBlur stdDeviation="1.1 1.0"/></filter>
<filter id="blur2" x="-50%" y="-50%" width="200%" height="200%"><feGaussianBlur stdDeviation="1.3 1.2"/></filter>
</defs>
<text x="44.40" y="443.00" font-size="9.87" fill="#262626" text-anchor="end" textLength="26.9" lengthAdjust="spacingAndGlyphs" stroke="#262626">Rpn10</text>
<text x="19.9" y="455.5" font-size="9.4" fill="#262626" stroke="#262626">Ub<tspan font-size="6.8" dy="2.6">2-7</tspan></text>
<text x="57.00" y="443.20" font-size="9.87" fill="#262626" text-anchor="middle" textLength="5.49" lengthAdjust="spacingAndGlyphs" stroke="#262626">+</text>
<text x="93.00" y="443.20" font-size="9.87" fill="#262626" text-anchor="middle" textLength="5.49" lengthAdjust="spacingAndGlyphs" stroke="#262626">+</text>
<text x="128.20" y="443.20" font-size="9.87" fill="#262626" text-anchor="middle" textLength="5.49" lengthAdjust="spacingAndGlyphs" stroke="#262626">+</text>
<text x="160.00" y="443.20" font-size="9.87" fill="#262626" text-anchor="middle" textLength="5.49" lengthAdjust="spacingAndGlyphs" stroke="#262626">+</text>
<text x="57.00" y="455.80" font-size="9.87" fill="#262626" text-anchor="middle" textLength="5.23" lengthAdjust="spacingAndGlyphs" stroke="#262626">&#8211;</text>
<text x="93.00" y="455.80" font-size="9.87" fill="#262626" text-anchor="middle" textLength="5.49" lengthAdjust="spacingAndGlyphs" stroke="#262626">+</text>
<text x="128.20" y="455.80" font-size="9.87" fill="#262626" text-anchor="middle" textLength="5.49" lengthAdjust="spacingAndGlyphs" stroke="#262626">+</text>
<text x="160.00" y="455.80" font-size="9.87" fill="#262626" text-anchor="middle" textLength="5.49" lengthAdjust="spacingAndGlyphs" stroke="#262626">+</text>
<text x="128.40" y="431.30" font-size="9.87" fill="#262626" text-anchor="middle" textLength="10.8" lengthAdjust="spacingAndGlyphs" stroke="#262626">SB</text>
<text x="160.60" y="431.30" font-size="9.87" fill="#262626" text-anchor="middle" textLength="18.8" lengthAdjust="spacingAndGlyphs" stroke="#262626">NSC</text>
<rect x="48.20" y="459.90" width="121.30" height="12.20" fill="#fbfbfb" stroke="#111" stroke-width="1.1"/>
<rect x="50.20" y="463.2" width="12.40" height="5.6" rx="2.8" fill="#000" filter="url(#blur1)"/>
<rect x="84.70" y="463.2" width="14.20" height="5.6" rx="2.8" fill="#000" filter="url(#blur1)"/>
<rect x="121.00" y="463.2" width="12.60" height="5.6" rx="2.8" fill="#000" filter="url(#blur1)"/>
<rect x="154.10" y="463.2" width="13.40" height="5.6" rx="2.8" fill="#000" filter="url(#blur1)"/>
<text x="173.80" y="469.60" font-size="9.87" fill="#262626" textLength="26.8" lengthAdjust="spacingAndGlyphs" stroke="#262626">Rpn10</text>
<rect x="48.20" y="478.50" width="121.30" height="85.00" fill="#fcfcfc" stroke="#111" stroke-width="1.1"/>
<defs><filter id="bl8" x="-50%" y="-80%" width="200%" height="260%"><feGaussianBlur stdDeviation="0.8"/></filter></defs>
<defs><filter id="bl9" x="-50%" y="-80%" width="200%" height="260%"><feGaussianBlur stdDeviation="0.9"/></filter></defs>
<defs><filter id="bl10" x="-50%" y="-80%" width="200%" height="260%"><feGaussianBlur stdDeviation="1.0"/></filter></defs>
<defs><filter id="bl12" x="-50%" y="-80%" width="200%" height="260%"><feGaussianBlur stdDeviation="1.2"/></filter></defs>
<rect x="87.4" y="489" width="13.6" height="44" rx="3" fill="#000" fill-opacity="0.07" filter="url(#bl12)"/>
<rect x="119.0" y="488" width="12.0" height="42" rx="3" fill="#000" fill-opacity="0.05" filter="url(#bl12)"/>
<rect x="149.0" y="486" width="15.2" height="46" rx="3" fill="#000" fill-opacity="0.09" filter="url(#bl12)"/>
<rect x="88.95" y="490.90" width="10.50" height="3.20" rx="1.60" fill="#000" fill-opacity="0.22" filter="url(#bl9)"/>
<rect x="88.20" y="498.50" width="12.00" height="6.40" rx="3.20" fill="#000" fill-opacity="0.5" filter="url(#bl10)"/>
<rect x="86.70" y="511.40" width="15.00" height="7.40" rx="3.70" fill="#000" fill-opacity="1.0" filter="url(#bl9)"/>
<rect x="86.70" y="524.70" width="15.00" height="8.40" rx="4.20" fill="#000" fill-opacity="1.0" filter="url(#bl9)"/>
<rect x="88.10" y="554.20" width="12.40" height="5.60" rx="2.80" fill="#000" fill-opacity="0.88" filter="url(#bl9)"/>
<rect x="120.50" y="489.90" width="9.00" height="2.80" rx="1.40" fill="#000" fill-opacity="0.18" filter="url(#bl9)"/>
<rect x="119.50" y="497.20" width="11.00" height="5.40" rx="2.70" fill="#000" fill-opacity="0.4" filter="url(#bl10)"/>
<rect x="118.50" y="511.60" width="13.00" height="5.20" rx="2.60" fill="#000" fill-opacity="0.85" filter="url(#bl9)"/>
<rect x="119.25" y="524.60" width="11.50" height="5.20" rx="2.60" fill="#000" fill-opacity="0.45" filter="url(#bl10)"/>
<rect x="151.10" y="487.40" width="11.00" height="3.20" rx="1.60" fill="#000" fill-opacity="0.25" filter="url(#bl9)"/>
<rect x="149.85" y="494.90" width="13.50" height="6.60" rx="3.30" fill="#000" fill-opacity="0.55" filter="url(#bl10)"/>
<rect x="148.40" y="508.30" width="16.40" height="8.20" rx="4.10" fill="#000" fill-opacity="1.0" filter="url(#bl9)"/>
<rect x="148.40" y="520.00" width="16.40" height="9.20" rx="4.60" fill="#000" fill-opacity="1.0" filter="url(#bl9)"/>
<rect x="149.80" y="550.00" width="13.60" height="5.40" rx="2.70" fill="#000" fill-opacity="0.92" filter="url(#bl9)"/>
<line x1="175.00" y1="488.00" x2="181.40" y2="488.00" stroke="#111" stroke-width="1.1"/>
<path d="M171.4,488.00 L176.6,485.50 L176.0,488.00 L176.6,490.50Z" stroke="none" stroke-width="1" fill="#111"/>
<text x="183.0" y="492.00" font-size="9.8" fill="#262626" textLength="16.2" lengthAdjust="spacingAndGlyphs" stroke="#262626">Ub<tspan font-size="7.4" dy="2.4">6</tspan></text>
<line x1="175.00" y1="497.10" x2="181.40" y2="497.10" stroke="#111" stroke-width="1.1"/>
<path d="M171.4,497.10 L176.6,494.60 L176.0,497.10 L176.6,499.60Z" stroke="none" stroke-width="1" fill="#111"/>
<text x="183.0" y="501.10" font-size="9.8" fill="#262626" textLength="16.2" lengthAdjust="spacingAndGlyphs" stroke="#262626">Ub<tspan font-size="7.4" dy="2.4">5</tspan></text>
<line x1="175.00" y1="510.40" x2="181.40" y2="510.40" stroke="#111" stroke-width="1.1"/>
<path d="M171.4,510.40 L176.6,507.90 L176.0,510.40 L176.6,512.90Z" stroke="none" stroke-width="1" fill="#111"/>
<text x="183.0" y="514.40" font-size="9.8" fill="#262626" textLength="16.2" lengthAdjust="spacingAndGlyphs" stroke="#262626">Ub<tspan font-size="7.4" dy="2.4">4</tspan></text>
<line x1="175.00" y1="524.90" x2="181.40" y2="524.90" stroke="#111" stroke-width="1.1"/>
<path d="M171.4,524.90 L176.6,522.40 L176.0,524.90 L176.6,527.40Z" stroke="none" stroke-width="1" fill="#111"/>
<text x="183.0" y="528.90" font-size="9.8" fill="#262626" textLength="16.2" lengthAdjust="spacingAndGlyphs" stroke="#262626">Ub<tspan font-size="7.4" dy="2.4">3</tspan></text>
<line x1="175.00" y1="553.20" x2="181.40" y2="553.20" stroke="#111" stroke-width="1.1"/>
<path d="M171.4,553.20 L176.6,550.70 L176.0,553.20 L176.6,555.70Z" stroke="none" stroke-width="1" fill="#111"/>
<text x="183.0" y="557.20" font-size="9.8" fill="#262626" textLength="16.2" lengthAdjust="spacingAndGlyphs" stroke="#262626">Ub<tspan font-size="7.4" dy="2.4">2</tspan></text>
<line x1="321.30" y1="433.80" x2="321.30" y2="568.80" stroke="#222" stroke-width="1.4"/>
<line x1="318.00" y1="568.20" x2="516.80" y2="568.20" stroke="#222" stroke-width="1.4"/>
<line x1="318.00" y1="568.20" x2="321.30" y2="568.20" stroke="#222" stroke-width="1.1"/>
<text x="314.40" y="571.60" font-size="10.08" fill="#262626" text-anchor="end" textLength="5.34" lengthAdjust="spacingAndGlyphs" stroke="#262626" stroke-width="0.1">0</text>
<line x1="318.00" y1="546.25" x2="321.30" y2="546.25" stroke="#222" stroke-width="1.1"/>
<text x="314.40" y="549.65" font-size="10.08" fill="#262626" text-anchor="end" textLength="10.68" lengthAdjust="spacingAndGlyphs" stroke="#262626" stroke-width="0.1">10</text>
<line x1="318.00" y1="524.30" x2="321.30" y2="524.30" stroke="#222" stroke-width="1.1"/>
<text x="314.40" y="527.70" font-size="10.08" fill="#262626" text-anchor="end" textLength="10.68" lengthAdjust="spacingAndGlyphs" stroke="#262626" stroke-width="0.1">20</text>
<line x1="318.00" y1="502.35" x2="321.30" y2="502.35" stroke="#222" stroke-width="1.1"/>
<text x="314.40" y="505.75" font-size="10.08" fill="#262626" text-anchor="end" textLength="10.68" lengthAdjust="spacingAndGlyphs" stroke="#262626" stroke-width="0.1">30</text>
<line x1="318.00" y1="480.40" x2="321.30" y2="480.40" stroke="#222" stroke-width="1.1"/>
<text x="314.40" y="483.80" font-size="10.08" fill="#262626" text-anchor="end" textLength="10.68" lengthAdjust="spacingAndGlyphs" stroke="#262626" stroke-width="0.1">40</text>
<line x1="318.00" y1="458.45" x2="321.30" y2="458.45" stroke="#222" stroke-width="1.1"/>
<text x="314.40" y="461.85" font-size="10.08" fill="#262626" text-anchor="end" textLength="10.68" lengthAdjust="spacingAndGlyphs" stroke="#262626" stroke-width="0.1">50</text>
<line x1="318.00" y1="436.50" x2="321.30" y2="436.50" stroke="#222" stroke-width="1.1"/>
<text x="314.40" y="439.90" font-size="10.08" fill="#262626" text-anchor="end" textLength="10.68" lengthAdjust="spacingAndGlyphs" stroke="#262626" stroke-width="0.1">60</text>
<line x1="321.30" y1="568.20" x2="321.30" y2="571.60" stroke="#222" stroke-width="1.1"/>
<text x="321.30" y="583.40" font-size="10.08" fill="#262626" text-anchor="middle" textLength="5.34" lengthAdjust="spacingAndGlyphs" stroke="#262626" stroke-width="0.1">0</text>
<line x1="369.60" y1="568.20" x2="369.60" y2="571.60" stroke="#222" stroke-width="1.1"/>
<text x="369.60" y="583.40" font-size="10.08" fill="#262626" text-anchor="middle" textLength="10.68" lengthAdjust="spacingAndGlyphs" stroke="#262626" stroke-width="0.1">10</text>
<line x1="417.90" y1="568.20" x2="417.90" y2="571.60" stroke="#222" stroke-width="1.1"/>
<text x="417.90" y="583.40" font-size="10.08" fill="#262626" text-anchor="middle" textLength="10.68" lengthAdjust="spacingAndGlyphs" stroke="#262626" stroke-width="0.1">20</text>
<line x1="466.20" y1="568.20" x2="466.20" y2="571.60" stroke="#222" stroke-width="1.1"/>
<text x="466.20" y="583.40" font-size="10.08" fill="#262626" text-anchor="middle" textLength="10.68" lengthAdjust="spacingAndGlyphs" stroke="#262626" stroke-width="0.1">30</text>
<line x1="514.50" y1="568.20" x2="514.50" y2="571.60" stroke="#222" stroke-width="1.1"/>
<text x="514.50" y="583.40" font-size="10.08" fill="#262626" text-anchor="middle" textLength="10.68" lengthAdjust="spacingAndGlyphs" stroke="#262626" stroke-width="0.1">40</text>
<text x="420.00" y="598.50" font-size="10.8" fill="#262626" text-anchor="middle" textLength="43.2" lengthAdjust="spacingAndGlyphs" stroke="#262626" stroke-width="0.1">Time (min)</text>
<text x="297.40" y="500.70" font-size="10.8" fill="#262626" text-anchor="middle" textLength="61.5" lengthAdjust="spacingAndGlyphs" transform="rotate(-90 297.40 500.70)" stroke="#262626" stroke-width="0.1">I-response (BU)</text>
<path d="M321.30,568.20 C321.34,565.27 321.38,557.37 321.54,550.64 C321.70,543.91 321.98,534.21 322.27,527.81 C322.55,521.41 322.86,516.40 323.23,512.23 C323.60,508.06 324.00,505.90 324.49,502.79 C324.97,499.68 325.49,496.64 326.13,493.57 C326.77,490.50 327.42,487.35 328.30,484.35 C329.19,481.35 330.24,478.42 331.44,475.57 C332.65,472.72 334.10,469.68 335.55,467.23 C337.00,464.78 338.81,462.51 340.14,460.86 C341.47,459.22 342.47,458.27 343.52,457.35 C344.56,456.44 345.93,455.71 346.42,455.38" stroke="#5562b4" stroke-width="4.8" fill="none" stroke-linecap="round"/>
<path d="M321.30,568.20 C321.34,565.27 321.38,557.37 321.54,550.64 C321.70,543.91 321.98,534.21 322.27,527.81 C322.55,521.41 322.86,516.40 323.23,512.23 C323.60,508.06 324.00,505.90 324.49,502.79 C324.97,499.68 325.49,496.64 326.13,493.57 C326.77,490.50 327.42,487.35 328.30,484.35 C329.19,481.35 330.24,478.42 331.44,475.57 C332.65,472.72 334.10,469.68 335.55,467.23 C337.00,464.78 338.81,462.51 340.14,460.86 C341.47,459.22 342.47,458.27 343.52,457.35 C344.56,456.44 345.93,455.71 346.42,455.38" stroke="#8a94d4" stroke-width="1.8" fill="none" stroke-linecap="round" stroke-opacity="0.7"/>
<path d="M352.21,459.55 C352.94,460.21 355.03,462.25 356.56,463.50 C358.09,464.74 359.22,465.66 361.39,467.01 C363.56,468.36 367.10,470.41 369.60,471.62 C372.10,472.83 373.95,473.49 376.36,474.25 C378.78,475.02 381.03,475.64 384.09,476.23 C387.15,476.81 390.93,477.40 394.72,477.77 C398.50,478.13 404.78,478.31 406.79,478.42" stroke="#5562b4" stroke-width="4.8" fill="none" stroke-linecap="round"/>
<path d="M352.21,459.55 C352.94,460.21 355.03,462.25 356.56,463.50 C358.09,464.74 359.22,465.66 361.39,467.01 C363.56,468.36 367.10,470.41 369.60,471.62 C372.10,472.83 373.95,473.49 376.36,474.25 C378.78,475.02 381.03,475.64 384.09,476.23 C387.15,476.81 390.93,477.40 394.72,477.77 C398.50,478.13 404.78,478.31 406.79,478.42" stroke="#8a94d4" stroke-width="1.8" fill="none" stroke-linecap="round" stroke-opacity="0.7"/>
<path d="M351.25,457.13 C352.94,458.49 357.20,462.84 361.39,465.25 C365.57,467.67 370.81,469.68 376.36,471.62 C381.92,473.56 389.40,475.64 394.72,476.89 C400.03,478.13 403.57,478.35 408.24,479.08 C412.91,479.81 420.31,480.91 422.73,481.28" stroke="#4a56a8" stroke-width="1.2" fill="none"/>
<path d="M321.30,568.20 C321.54,566.37 322.02,561.94 322.75,557.23 C323.47,552.51 324.36,545.74 325.65,539.88 C326.94,534.03 329.03,526.39 330.48,522.11 C331.93,517.82 332.97,516.65 334.34,514.20 C335.71,511.75 337.00,509.59 338.69,507.40 C340.38,505.20 342.79,502.75 344.48,501.03 C346.17,499.31 348.11,497.74 348.83,497.08" stroke="#2f9a45" stroke-width="4.8" fill="none" stroke-linecap="round"/>
<path d="M321.30,568.20 C321.54,566.37 322.02,561.94 322.75,557.23 C323.47,552.51 324.36,545.74 325.65,539.88 C326.94,534.03 329.03,526.39 330.48,522.11 C331.93,517.82 332.97,516.65 334.34,514.20 C335.71,511.75 337.00,509.59 338.69,507.40 C340.38,505.20 342.79,502.75 344.48,501.03 C346.17,499.31 348.11,497.74 348.83,497.08" stroke="#6cc07a" stroke-width="1.6" fill="none" stroke-linecap="round" stroke-opacity="0.6"/>
<polyline points="350.76,494.45 394.72,501.69 429.98,508.28 514.50,521.23" stroke="#2f9a45" stroke-width="1.2" fill="none"/>
<path d="M429.49,509.81 C432.39,510.18 440.76,511.20 446.88,512.01 C453.00,512.81 458.96,513.65 466.20,514.64 C473.45,515.63 482.30,516.73 490.35,517.93 C498.40,519.14 510.48,521.23 514.50,521.89" stroke="#2f9a45" stroke-width="4.8" fill="none" stroke-linecap="round"/>
<path d="M429.49,509.81 C432.39,510.18 440.76,511.20 446.88,512.01 C453.00,512.81 458.96,513.65 466.20,514.64 C473.45,515.63 482.30,516.73 490.35,517.93 C498.40,519.14 510.48,521.23 514.50,521.89" stroke="#6cc07a" stroke-width="1.4" fill="none" stroke-linecap="round" stroke-opacity="0.6"/>
<path d="M321.30,567.10 C321.62,566.19 322.43,562.86 323.23,561.62 C324.04,560.37 324.44,560.04 326.13,559.64 C327.82,559.24 330.96,559.31 333.38,559.20 C335.79,559.09 338.61,558.94 340.62,558.98 C342.63,559.02 344.24,558.80 345.45,559.42 C346.66,560.04 347.22,561.54 347.87,562.71 C348.51,563.88 348.75,565.31 349.31,566.44 C349.88,567.58 350.92,569.00 351.25,569.52" stroke="#1a1a1a" stroke-width="3.6" fill="none" stroke-linecap="round" stroke-linejoin="round"/>
<circle cx="321.30" cy="568.20" r="2.40" fill="#1a1a1a" stroke="none" stroke-width="1"/>
<line x1="361.60" y1="517.70" x2="450.80" y2="517.70" stroke="#222" stroke-width="0.9"/>
<line x1="361.60" y1="530.20" x2="450.80" y2="530.20" stroke="#222" stroke-width="0.9"/>
<line x1="361.60" y1="563.00" x2="450.80" y2="563.00" stroke="#222" stroke-width="0.9"/>
<text x="363.00" y="527.40" font-size="9.87" fill="#262626" textLength="44.8" lengthAdjust="spacingAndGlyphs" stroke="#262626">Interaction</text>
<text x="420.4" y="527.4" font-size="9.4" fill="#262626" stroke="#262626">K<tspan font-size="6.6" dy="2.2">d</tspan><tspan dy="-2.2">(nM)</tspan></text>
<text x="363.00" y="540.90" font-size="9.87" fill="#262626" textLength="53.82" lengthAdjust="spacingAndGlyphs" stroke="#262626">Rpn10, DiUb</text>
<text x="427.60" y="540.90" font-size="9.87" fill="#262626" textLength="10.46" lengthAdjust="spacingAndGlyphs" stroke="#262626">41</text>
<text x="363.00" y="551.30" font-size="9.87" fill="#262626" textLength="45.46" lengthAdjust="spacingAndGlyphs" stroke="#262626">Rpn10, SB</text>
<text x="427.60" y="551.30" font-size="9.87" fill="#262626" textLength="14.99" lengthAdjust="spacingAndGlyphs" stroke="#262626">116</text>
<text x="363.00" y="561.60" font-size="9.87" fill="#262626" textLength="53.29" lengthAdjust="spacingAndGlyphs" stroke="#262626">Rpn10, UNC</text>
<text x="427.60" y="561.60" font-size="9.87" fill="#262626" textLength="13.06" lengthAdjust="spacingAndGlyphs" stroke="#262626">NA</text>
<circle cx="430.60" cy="438.60" r="1.80" fill="none" stroke="#5562b4" stroke-width="1.3"/>
<text x="435.40" y="441.90" font-size="9.66" fill="#262626" textLength="68.2" lengthAdjust="spacingAndGlyphs" stroke="#262626">Rpn10/SB699551</text>
<circle cx="430.60" cy="449.40" r="1.80" fill="none" stroke="#3aa04a" stroke-width="1.3"/>
<text x="435.40" y="452.70" font-size="9.66" fill="#262626" textLength="47.8" lengthAdjust="spacingAndGlyphs" stroke="#262626">Rpn10/DiUB</text>
<circle cx="430.60" cy="460.20" r="1.80" fill="none" stroke="#1a1a1a" stroke-width="1.3"/>
<text x="435.40" y="463.50" font-size="9.66" fill="#262626" textLength="68.2" lengthAdjust="spacingAndGlyphs" stroke="#262626">Rpn10/UNC0638</text>
<line x1="55.00" y1="647.40" x2="55.00" y2="761.60" stroke="#222" stroke-width="1.4"/>
<line x1="54.40" y1="761.00" x2="231.50" y2="761.00" stroke="#222" stroke-width="1.4"/>
<line x1="51.40" y1="760.60" x2="55.00" y2="760.60" stroke="#222" stroke-width="1.1"/>
<text x="47.40" y="764.00" font-size="10.08" fill="#262626" text-anchor="end" textLength="16.02" lengthAdjust="spacingAndGlyphs" stroke="#262626" stroke-width="0.1">838</text>
<line x1="51.40" y1="733.15" x2="55.00" y2="733.15" stroke="#222" stroke-width="1.1"/>
<text x="47.40" y="736.55" font-size="10.08" fill="#262626" text-anchor="end" textLength="16.02" lengthAdjust="spacingAndGlyphs" stroke="#262626" stroke-width="0.1">843</text>
<line x1="51.40" y1="705.70" x2="55.00" y2="705.70" stroke="#222" stroke-width="1.1"/>
<text x="47.40" y="709.10" font-size="10.08" fill="#262626" text-anchor="end" textLength="16.02" lengthAdjust="spacingAndGlyphs" stroke="#262626" stroke-width="0.1">848</text>
<line x1="51.40" y1="678.25" x2="55.00" y2="678.25" stroke="#222" stroke-width="1.1"/>
<text x="47.40" y="681.65" font-size="10.08" fill="#262626" text-anchor="end" textLength="16.02" lengthAdjust="spacingAndGlyphs" stroke="#262626" stroke-width="0.1">853</text>
<line x1="51.40" y1="650.80" x2="55.00" y2="650.80" stroke="#222" stroke-width="1.1"/>
<text x="47.40" y="654.20" font-size="10.08" fill="#262626" text-anchor="end" textLength="16.02" lengthAdjust="spacingAndGlyphs" stroke="#262626" stroke-width="0.1">858</text>
<line x1="54.50" y1="761.00" x2="54.50" y2="764.00" stroke="#222" stroke-width="1.1"/>
<text x="54.50" y="776.40" font-size="10.08" fill="#262626" text-anchor="middle" textLength="5.34" lengthAdjust="spacingAndGlyphs" stroke="#262626" stroke-width="0.1">1</text>
<line x1="112.69" y1="761.00" x2="112.69" y2="764.00" stroke="#222" stroke-width="1.1"/>
<text x="112.69" y="776.40" font-size="10.08" fill="#262626" text-anchor="middle" textLength="10.68" lengthAdjust="spacingAndGlyphs" stroke="#262626" stroke-width="0.1">50</text>
<line x1="170.88" y1="761.00" x2="170.88" y2="764.00" stroke="#222" stroke-width="1.1"/>
<text x="170.88" y="776.40" font-size="10.08" fill="#262626" text-anchor="middle" textLength="21.36" lengthAdjust="spacingAndGlyphs" stroke="#262626" stroke-width="0.1">2500</text>
<line x1="229.07" y1="761.00" x2="229.07" y2="764.00" stroke="#222" stroke-width="1.1"/>
<text x="229.07" y="776.40" font-size="10.08" fill="#262626" text-anchor="middle" textLength="32.03" lengthAdjust="spacingAndGlyphs" stroke="#262626" stroke-width="0.1">125000</text>
<line x1="64.81" y1="761.00" x2="64.81" y2="762.60" stroke="#222" stroke-width="0.8"/>
<line x1="70.84" y1="761.00" x2="70.84" y2="762.60" stroke="#222" stroke-width="0.8"/>
<line x1="75.12" y1="761.00" x2="75.12" y2="762.60" stroke="#222" stroke-width="0.8"/>
<line x1="78.44" y1="761.00" x2="78.44" y2="762.60" stroke="#222" stroke-width="0.8"/>
<line x1="81.15" y1="761.00" x2="81.15" y2="762.60" stroke="#222" stroke-width="0.8"/>
<line x1="83.44" y1="761.00" x2="83.44" y2="762.60" stroke="#222" stroke-width="0.8"/>
<line x1="85.43" y1="761.00" x2="85.43" y2="762.60" stroke="#222" stroke-width="0.8"/>
<line x1="87.18" y1="761.00" x2="87.18" y2="762.60" stroke="#222" stroke-width="0.8"/>
<line x1="99.06" y1="761.00" x2="99.06" y2="762.60" stroke="#222" stroke-width="0.8"/>
<line x1="105.09" y1="761.00" x2="105.09" y2="762.60" stroke="#222" stroke-width="0.8"/>
<line x1="109.37" y1="761.00" x2="109.37" y2="762.60" stroke="#222" stroke-width="0.8"/>
<line x1="112.69" y1="761.00" x2="112.69" y2="762.60" stroke="#222" stroke-width="0.8"/>
<line x1="115.40" y1="761.00" x2="115.40" y2="762.60" stroke="#222" stroke-width="0.8"/>
<line x1="117.69" y1="761.00" x2="117.69" y2="762.60" stroke="#222" stroke-width="0.8"/>
<line x1="119.68" y1="761.00" x2="119.68" y2="762.60" stroke="#222" stroke-width="0.8"/>
<line x1="121.43" y1="761.00" x2="121.43" y2="762.60" stroke="#222" stroke-width="0.8"/>
<line x1="133.31" y1="761.00" x2="133.31" y2="762.60" stroke="#222" stroke-width="0.8"/>
<line x1="139.34" y1="761.00" x2="139.34" y2="762.60" stroke="#222" stroke-width="0.8"/>
<line x1="143.62" y1="761.00" x2="143.62" y2="762.60" stroke="#222" stroke-width="0.8"/>
<line x1="146.94" y1="761.00" x2="146.94" y2="762.60" stroke="#222" stroke-width="0.8"/>
<line x1="149.65" y1="761.00" x2="149.65" y2="762.60" stroke="#222" stroke-width="0.8"/>
<line x1="151.94" y1="761.00" x2="151.94" y2="762.60" stroke="#222" stroke-width="0.8"/>
<line x1="153.93" y1="761.00" x2="153.93" y2="762.60" stroke="#222" stroke-width="0.8"/>
<line x1="155.68" y1="761.00" x2="155.68" y2="762.60" stroke="#222" stroke-width="0.8"/>
<line x1="167.56" y1="761.00" x2="167.56" y2="762.60" stroke="#222" stroke-width="0.8"/>
<line x1="173.59" y1="761.00" x2="173.59" y2="762.60" stroke="#222" stroke-width="0.8"/>
<line x1="177.87" y1="761.00" x2="177.87" y2="762.60" stroke="#222" stroke-width="0.8"/>
<line x1="181.19" y1="761.00" x2="181.19" y2="762.60" stroke="#222" stroke-width="0.8"/>
<line x1="183.90" y1="761.00" x2="183.90" y2="762.60" stroke="#222" stroke-width="0.8"/>
<line x1="186.19" y1="761.00" x2="186.19" y2="762.60" stroke="#222" stroke-width="0.8"/>
<line x1="188.18" y1="761.00" x2="188.18" y2="762.60" stroke="#222" stroke-width="0.8"/>
<line x1="189.93" y1="761.00" x2="189.93" y2="762.60" stroke="#222" stroke-width="0.8"/>
<line x1="201.81" y1="761.00" x2="201.81" y2="762.60" stroke="#222" stroke-width="0.8"/>
<line x1="207.84" y1="761.00" x2="207.84" y2="762.60" stroke="#222" stroke-width="0.8"/>
<line x1="212.12" y1="761.00" x2="212.12" y2="762.60" stroke="#222" stroke-width="0.8"/>
<line x1="215.44" y1="761.00" x2="215.44" y2="762.60" stroke="#222" stroke-width="0.8"/>
<line x1="218.15" y1="761.00" x2="218.15" y2="762.60" stroke="#222" stroke-width="0.8"/>
<line x1="220.44" y1="761.00" x2="220.44" y2="762.60" stroke="#222" stroke-width="0.8"/>
<line x1="222.43" y1="761.00" x2="222.43" y2="762.60" stroke="#222" stroke-width="0.8"/>
<line x1="224.18" y1="761.00" x2="224.18" y2="762.60" stroke="#222" stroke-width="0.8"/>
<text x="154.00" y="791.80" font-size="10.8" fill="#262626" text-anchor="middle" textLength="72.4" lengthAdjust="spacingAndGlyphs" stroke="#262626" stroke-width="0.1">[SB699551] (nM)</text>
<text x="26.00" y="703.50" font-size="10.8" fill="#262626" text-anchor="middle" textLength="62.3" lengthAdjust="spacingAndGlyphs" transform="rotate(-90 26.00 703.50)" stroke="#262626" stroke-width="0.1">MST Fnorm (&#8240;)</text>
<text x="112.9" y="645.5" font-size="10.2" fill="#262626" textLength="75.4" lengthAdjust="spacingAndGlyphs" stroke="#262626" stroke-width="0.1">K<tspan font-size="7.2" dy="2.2">d</tspan><tspan dy="-2.2"> = 51.16 &#177; 0.73</tspan></text>
<path d="M54.50,739.40 C55.75,739.27 59.20,739.02 62.00,738.60 C64.80,738.18 68.30,737.60 71.30,736.90 C74.30,736.20 77.12,735.43 80.00,734.40 C82.88,733.37 86.27,731.77 88.60,730.70 C90.93,729.63 92.27,728.98 94.00,728.00 C95.73,727.02 97.27,726.13 99.00,724.80 C100.73,723.47 102.67,721.73 104.40,720.00 C106.13,718.27 107.83,716.30 109.40,714.40 C110.97,712.50 112.37,710.62 113.80,708.60 C115.23,706.58 116.57,704.33 118.00,702.30 C119.43,700.27 120.95,698.25 122.40,696.40 C123.85,694.55 125.13,692.93 126.70,691.20 C128.27,689.47 130.07,687.62 131.80,686.00 C133.53,684.38 135.37,682.77 137.10,681.50 C138.83,680.23 140.47,679.32 142.20,678.40 C143.93,677.48 145.53,676.80 147.50,676.00 C149.47,675.20 151.70,674.30 154.00,673.60 C156.30,672.90 158.80,672.35 161.30,671.80 C163.80,671.25 166.12,670.75 169.00,670.30 C171.88,669.85 175.43,669.42 178.60,669.10 C181.77,668.78 184.53,668.58 188.00,668.40 C191.47,668.22 194.90,668.10 199.40,668.00 C203.90,667.90 209.80,667.85 215.00,667.80 C220.20,667.75 228.00,667.72 230.60,667.70" stroke="#a3173b" stroke-width="1.5" fill="none"/>
<path d="M54.50,741.40 L56.90,743.80 L54.50,746.20 L52.10,743.80Z" stroke="none" stroke-width="1" fill="#3ca43c"/>
<path d="M78.50,727.10 L80.90,729.50 L78.50,731.90 L76.10,729.50Z" stroke="none" stroke-width="1" fill="#3ca43c"/>
<path d="M88.50,717.60 L90.90,720.00 L88.50,722.40 L86.10,720.00Z" stroke="none" stroke-width="1" fill="#3ca43c"/>
<path d="M113.20,711.90 L115.60,714.30 L113.20,716.70 L110.80,714.30Z" stroke="none" stroke-width="1" fill="#3ca43c"/>
<path d="M122.90,694.30 L125.30,696.70 L122.90,699.10 L120.50,696.70Z" stroke="none" stroke-width="1" fill="#3ca43c"/>
<path d="M133.70,686.30 L136.10,688.70 L133.70,691.10 L131.30,688.70Z" stroke="none" stroke-width="1" fill="#3ca43c"/>
<path d="M143.60,676.30 L146.00,678.70 L143.60,681.10 L141.20,678.70Z" stroke="none" stroke-width="1" fill="#3ca43c"/>
<path d="M153.90,676.30 L156.30,678.70 L153.90,681.10 L151.50,678.70Z" stroke="none" stroke-width="1" fill="#3ca43c"/>
<path d="M164.60,668.80 L167.00,671.20 L164.60,673.60 L162.20,671.20Z" stroke="none" stroke-width="1" fill="#3ca43c"/>
<path d="M174.90,662.00 L177.30,664.40 L174.90,666.80 L172.50,664.40Z" stroke="none" stroke-width="1" fill="#3ca43c"/>
<path d="M184.80,668.20 L187.20,670.60 L184.80,673.00 L182.40,670.60Z" stroke="none" stroke-width="1" fill="#3ca43c"/>
<path d="M194.80,662.00 L197.20,664.40 L194.80,666.80 L192.40,664.40Z" stroke="none" stroke-width="1" fill="#3ca43c"/>
<path d="M205.50,662.00 L207.90,664.40 L205.50,666.80 L203.10,664.40Z" stroke="none" stroke-width="1" fill="#3ca43c"/>
<path d="M216.30,672.30 L218.70,674.70 L216.30,677.10 L213.90,674.70Z" stroke="none" stroke-width="1" fill="#3ca43c"/>
<line x1="330.60" y1="644.80" x2="330.60" y2="762.30" stroke="#222" stroke-width="1.4"/>
<line x1="330.00" y1="761.70" x2="500.20" y2="761.70" stroke="#222" stroke-width="1.4"/>
<line x1="327.00" y1="761.70" x2="330.60" y2="761.70" stroke="#222" stroke-width="1.1"/>
<text x="323.60" y="765.10" font-size="10.08" fill="#262626" text-anchor="end" textLength="5.34" lengthAdjust="spacingAndGlyphs" stroke="#262626" stroke-width="0.1">0</text>
<line x1="327.00" y1="723.92" x2="330.60" y2="723.92" stroke="#222" stroke-width="1.1"/>
<text x="323.60" y="727.32" font-size="10.08" fill="#262626" text-anchor="end" textLength="10.68" lengthAdjust="spacingAndGlyphs" stroke="#262626" stroke-width="0.1">50</text>
<line x1="327.00" y1="686.14" x2="330.60" y2="686.14" stroke="#222" stroke-width="1.1"/>
<text x="323.60" y="689.54" font-size="10.08" fill="#262626" text-anchor="end" textLength="16.02" lengthAdjust="spacingAndGlyphs" stroke="#262626" stroke-width="0.1">100</text>
<line x1="327.00" y1="648.36" x2="330.60" y2="648.36" stroke="#222" stroke-width="1.1"/>
<text x="323.60" y="651.76" font-size="10.08" fill="#262626" text-anchor="end" textLength="16.02" lengthAdjust="spacingAndGlyphs" stroke="#262626" stroke-width="0.1">150</text>
<line x1="351.60" y1="761.70" x2="351.60" y2="764.90" stroke="#222" stroke-width="1.1"/>
<text x="351.60" y="777.00" font-size="10.08" fill="#262626" text-anchor="middle" textLength="5.34" lengthAdjust="spacingAndGlyphs" stroke="#262626" stroke-width="0.1">0</text>
<line x1="383.90" y1="761.70" x2="383.90" y2="764.90" stroke="#222" stroke-width="1.1"/>
<text x="383.90" y="777.00" font-size="10.08" fill="#262626" text-anchor="middle" textLength="5.34" lengthAdjust="spacingAndGlyphs" stroke="#262626" stroke-width="0.1">1</text>
<line x1="415.70" y1="761.70" x2="415.70" y2="764.90" stroke="#222" stroke-width="1.1"/>
<text x="415.70" y="777.00" font-size="10.08" fill="#262626" text-anchor="middle" textLength="5.34" lengthAdjust="spacingAndGlyphs" stroke="#262626" stroke-width="0.1">2</text>
<line x1="447.50" y1="761.70" x2="447.50" y2="764.90" stroke="#222" stroke-width="1.1"/>
<text x="447.50" y="777.00" font-size="10.08" fill="#262626" text-anchor="middle" textLength="13.35" lengthAdjust="spacingAndGlyphs" stroke="#262626" stroke-width="0.1">2.5</text>
<line x1="478.80" y1="761.70" x2="478.80" y2="764.90" stroke="#222" stroke-width="1.1"/>
<text x="478.80" y="777.00" font-size="10.08" fill="#262626" text-anchor="middle" textLength="5.34" lengthAdjust="spacingAndGlyphs" stroke="#262626" stroke-width="0.1">3</text>
<text x="416.20" y="792.40" font-size="10.8" fill="#262626" text-anchor="middle" textLength="72.6" lengthAdjust="spacingAndGlyphs" stroke="#262626" stroke-width="0.1">[SB699551] (&#956;M)</text>
<text x="301.80" y="703.10" font-size="10.8" fill="#262626" text-anchor="middle" textLength="54" lengthAdjust="spacingAndGlyphs" transform="rotate(-90 301.80 703.10)" stroke="#262626" stroke-width="0.1">% Viable cells</text>
<line x1="351.60" y1="675.56" x2="351.60" y2="695.96" stroke="#aaa" stroke-width="0.8"/>
<line x1="350.00" y1="675.56" x2="353.20" y2="675.56" stroke="#aaa" stroke-width="0.8"/>
<line x1="350.00" y1="695.96" x2="353.20" y2="695.96" stroke="#aaa" stroke-width="0.8"/>
<line x1="351.60" y1="680.85" x2="351.60" y2="692.18" stroke="#888" stroke-width="0.8"/>
<line x1="350.00" y1="680.85" x2="353.20" y2="680.85" stroke="#888" stroke-width="0.8"/>
<line x1="350.00" y1="692.18" x2="353.20" y2="692.18" stroke="#888" stroke-width="0.8"/>
<line x1="383.90" y1="675.56" x2="383.90" y2="681.61" stroke="#3a9e3a" stroke-width="0.8"/>
<line x1="382.30" y1="675.56" x2="385.50" y2="675.56" stroke="#3a9e3a" stroke-width="0.8"/>
<line x1="382.30" y1="681.61" x2="385.50" y2="681.61" stroke="#3a9e3a" stroke-width="0.8"/>
<line x1="383.90" y1="683.12" x2="383.90" y2="695.96" stroke="#999" stroke-width="0.8"/>
<line x1="382.30" y1="683.12" x2="385.50" y2="683.12" stroke="#999" stroke-width="0.8"/>
<line x1="382.30" y1="695.96" x2="385.50" y2="695.96" stroke="#999" stroke-width="0.8"/>
<line x1="383.90" y1="686.14" x2="383.90" y2="693.70" stroke="#111" stroke-width="0.8"/>
<line x1="382.30" y1="686.14" x2="385.50" y2="686.14" stroke="#111" stroke-width="0.8"/>
<line x1="382.30" y1="693.70" x2="385.50" y2="693.70" stroke="#111" stroke-width="0.8"/>
<line x1="415.70" y1="677.83" x2="415.70" y2="686.90" stroke="#3a9e3a" stroke-width="0.8"/>
<line x1="414.10" y1="677.83" x2="417.30" y2="677.83" stroke="#3a9e3a" stroke-width="0.8"/>
<line x1="414.10" y1="686.90" x2="417.30" y2="686.90" stroke="#3a9e3a" stroke-width="0.8"/>
<line x1="415.70" y1="692.18" x2="415.70" y2="702.76" stroke="#999" stroke-width="0.8"/>
<line x1="414.10" y1="692.18" x2="417.30" y2="692.18" stroke="#999" stroke-width="0.8"/>
<line x1="414.10" y1="702.76" x2="417.30" y2="702.76" stroke="#999" stroke-width="0.8"/>
<line x1="447.50" y1="680.10" x2="447.50" y2="701.25" stroke="#3a9e3a" stroke-width="0.8"/>
<line x1="445.90" y1="680.10" x2="449.10" y2="680.10" stroke="#3a9e3a" stroke-width="0.8"/>
<line x1="445.90" y1="701.25" x2="449.10" y2="701.25" stroke="#3a9e3a" stroke-width="0.8"/>
<line x1="447.50" y1="704.27" x2="447.50" y2="733.74" stroke="#888" stroke-width="0.8"/>
<line x1="445.90" y1="704.27" x2="449.10" y2="704.27" stroke="#888" stroke-width="0.8"/>
<line x1="445.90" y1="733.74" x2="449.10" y2="733.74" stroke="#888" stroke-width="0.8"/>
<line x1="478.80" y1="711.83" x2="478.80" y2="714.10" stroke="#3a9e3a" stroke-width="0.8"/>
<line x1="477.20" y1="711.83" x2="480.40" y2="711.83" stroke="#3a9e3a" stroke-width="0.8"/>
<line x1="477.20" y1="714.10" x2="480.40" y2="714.10" stroke="#3a9e3a" stroke-width="0.8"/>
<polyline points="351.60,686.14 383.90,689.54 415.70,695.21 447.50,712.96 478.80,761.70" stroke="#b9b9b9" stroke-width="1.3" fill="none"/>
<polyline points="351.60,686.14 383.90,689.92 415.70,696.95 447.50,719.01 478.80,761.70" stroke="#111" stroke-width="1.6" fill="none"/>
<polyline points="351.60,686.14 383.90,678.13 415.70,682.36 447.50,690.67 478.80,712.96" stroke="#3a9e3a" stroke-width="1.5" fill="none"/>
<rect x="350.25" y="684.79" width="2.70" height="2.70" fill="#b9b9b9" stroke="none" stroke-width="1"/>
<rect x="382.55" y="688.19" width="2.70" height="2.70" fill="#b9b9b9" stroke="none" stroke-width="1"/>
<rect x="414.35" y="693.86" width="2.70" height="2.70" fill="#b9b9b9" stroke="none" stroke-width="1"/>
<rect x="446.15" y="711.61" width="2.70" height="2.70" fill="#b9b9b9" stroke="none" stroke-width="1"/>
<rect x="477.45" y="760.35" width="2.70" height="2.70" fill="#b9b9b9" stroke="none" stroke-width="1"/>
<rect x="350.35" y="684.89" width="2.50" height="2.50" fill="#222" stroke="none" stroke-width="1"/>
<rect x="382.65" y="688.67" width="2.50" height="2.50" fill="#222" stroke="none" stroke-width="1"/>
<rect x="414.45" y="695.70" width="2.50" height="2.50" fill="#222" stroke="none" stroke-width="1"/>
<rect x="446.25" y="717.76" width="2.50" height="2.50" fill="#222" stroke="none" stroke-width="1"/>
<rect x="477.55" y="760.45" width="2.50" height="2.50" fill="#222" stroke="none" stroke-width="1"/>
<rect x="350.15" y="684.69" width="2.90" height="2.90" fill="#3a9e3a" stroke="none" stroke-width="1"/>
<rect x="382.45" y="676.68" width="2.90" height="2.90" fill="#3a9e3a" stroke="none" stroke-width="1"/>
<rect x="414.25" y="680.91" width="2.90" height="2.90" fill="#3a9e3a" stroke="none" stroke-width="1"/>
<rect x="446.05" y="689.22" width="2.90" height="2.90" fill="#3a9e3a" stroke="none" stroke-width="1"/>
<rect x="477.35" y="711.51" width="2.90" height="2.90" fill="#3a9e3a" stroke="none" stroke-width="1"/>
<text x="450.60" y="693.00" font-size="9.87" fill="#111" textLength="11.6" lengthAdjust="spacingAndGlyphs" stroke="#111">***</text>
<text x="476.80" y="713.00" font-size="9.87" fill="#111" textLength="16.2" lengthAdjust="spacingAndGlyphs" stroke="#111">****</text>
<text x="450.80" y="714.60" font-size="10.08" fill="#262626" textLength="9.2" lengthAdjust="spacingAndGlyphs" stroke="#262626" stroke-width="0.1">ns</text>
<text x="479.20" y="758.80" font-size="10.08" fill="#262626" textLength="9.0" lengthAdjust="spacingAndGlyphs" stroke="#262626" stroke-width="0.1">ns</text>
<line x1="335.80" y1="640.60" x2="349.60" y2="640.60" stroke="#111" stroke-width="1.3"/>
<circle cx="342.60" cy="640.60" r="1.50" fill="#111" stroke="none" stroke-width="1"/>
<text x="354.90" y="643.80" font-size="9.66" fill="#262626" textLength="74.4" lengthAdjust="spacingAndGlyphs" stroke="#262626">AMO1 sgCT +pEV</text>
<line x1="335.80" y1="649.30" x2="349.60" y2="649.30" stroke="#3a9e3a" stroke-width="1.3"/>
<circle cx="342.60" cy="649.30" r="1.50" fill="#3a9e3a" stroke="none" stroke-width="1"/>
<text x="354.90" y="652.50" font-size="9.66" fill="#262626" textLength="71.5" lengthAdjust="spacingAndGlyphs" stroke="#262626">AMO1-iKO +pEV</text>
<line x1="335.80" y1="658.40" x2="349.60" y2="658.40" stroke="#b9b9b9" stroke-width="1.3"/>
<circle cx="342.60" cy="658.40" r="1.50" fill="#b9b9b9" stroke="none" stroke-width="1"/>
<text x="354.90" y="661.60" font-size="9.66" fill="#262626" textLength="79.0" lengthAdjust="spacingAndGlyphs" stroke="#262626">AMO1-iKO +Rpn10</text>
</svg>
</body></html>
